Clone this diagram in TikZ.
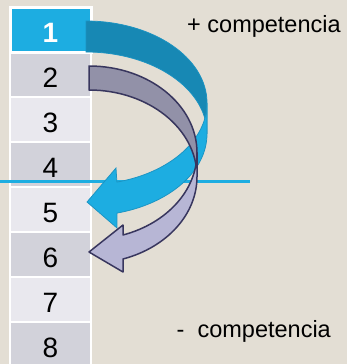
\documentclass[tikz,border=0pt]{standalone}
\usepackage{fontspec}
\setmainfont{Liberation Sans}
\usepackage{xcolor}
\usepackage{tikz}

\definecolor{fondo}{HTML}{E3DED4}
\definecolor{celeste}{HTML}{1DADE1}
\definecolor{celesteosc}{HTML}{1788B4}
\definecolor{borde}{HTML}{1B93C2}
\definecolor{gris}{HTML}{D2D2DA}
\definecolor{grisclaro}{HTML}{E9E8EE}
\definecolor{lila}{HTML}{B7B6D5}
\definecolor{lilaosc}{HTML}{9291A8}
\definecolor{marino}{HTML}{38365E}

\tikzset{
  caja/.style={draw=white, line width=1.5pt, minimum width=81pt, minimum height=45pt,
    inner sep=0pt, text height=25pt, text depth=0pt,
    font=\fontsize{28}{30}\selectfont},
  texto/.style={inner sep=0pt, anchor=base west, font=\fontsize{23.5}{28}\selectfont}
}

\begin{document}
\begin{tikzpicture}[x=1pt,y=1pt,yscale=-1,xscale=1]

\fill[fondo] (0,0) rectangle (347,364);
\useasboundingbox (0,0) rectangle (347,364);

% columna de posiciones
\node[caja, fill=grisclaro] (b3) at (50.5,119.5) {3};
\node[caja, fill=gris] (b2) at (50.5,74.5) {2};
\node[caja, fill=gris] (b4) at (50.5,164.5) {4};
\node[caja, fill=grisclaro] (b5) at (50.5,209.5) {5};
\node[caja, fill=gris] (b6) at (50.5,254.5) {6};
\node[caja, fill=grisclaro] (b7) at (50.5,299.5) {7};
\node[caja, fill=gris] (b8) at (50.5,344.5) {8};
\node[caja, fill=celeste, line width=3pt, text=white] (b1) at (50.5,29.5) {\textbf{1}};

% linea de corte
\draw[celeste, line width=3.5pt] (0,181.5) -- (250,181.5);

% flecha celeste
\filldraw[fill=celesteosc, draw=borde, line width=0.75pt] (86,21)
  arc[start angle=-90, end angle=0, x radius=121, y radius=81.9]
  -- (207,133.9)
  arc[start angle=0, end angle=-90, x radius=121, y radius=81.9] -- cycle;

\filldraw[fill=celeste, draw=borde, line width=0.75pt] (207,102.9)
  arc[start angle=0, end angle=75.2, x radius=121, y radius=81.9]
  -- (116,168) -- (87,202) -- (117,228) -- (116.9,213.1)
  arc[start angle=75.2, end angle=0, x radius=121, y radius=81.9] -- cycle;

% flecha lila
\filldraw[fill=lilaosc, draw=marino, line width=1.5pt, line join=round] (89,66)
  arc[start angle=-90, end angle=0, x radius=108, y radius=86.7]
  -- (197,176.7)
  arc[start angle=0, end angle=-90, x radius=108, y radius=86.7] -- cycle;

\filldraw[fill=lila, draw=marino, line width=1.5pt, line join=round] (197,152.7)
  arc[start angle=0, end angle=71.65, x radius=108, y radius=86.7]
  -- (123,225) -- (89,252) -- (123,272) -- (123,259)
  arc[start angle=71.65, end angle=0, x radius=108, y radius=86.7] -- cycle;

\node[texto] (mas) at (187,32) {+ competencia};
\node[texto] (menos) at (176.5,337) {-\ \ competencia};

\end{tikzpicture}
\end{document}
